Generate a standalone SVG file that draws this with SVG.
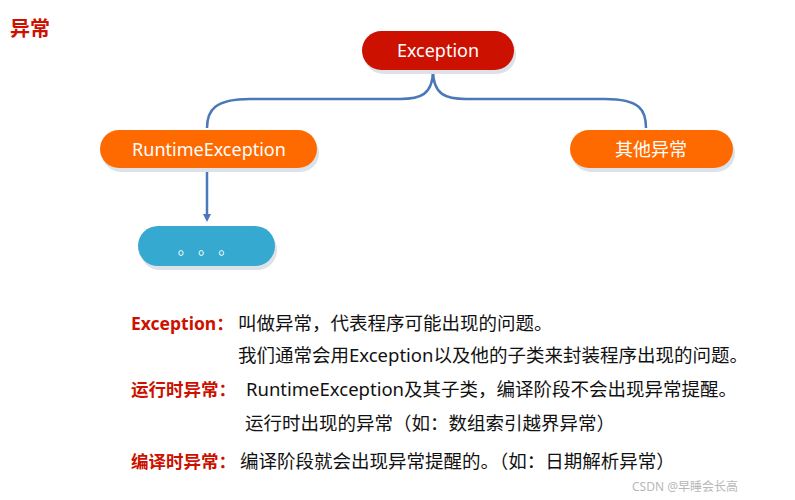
<svg xmlns="http://www.w3.org/2000/svg" width="795" height="500" viewBox="0 0 795 500">
<defs>
<style>
text{font-family:"Noto Sans","Noto Sans CJK SC",sans-serif}
.nt{fill:#fff;font-size:18px;text-anchor:middle}
.lb{fill:#cc1100;font-size:17.5px;font-weight:bold}
.bd{fill:#111;font-size:18.5px}
.sh{fill:#dde2e8}
.cn{fill:none;stroke:#4a78b8;stroke-width:2.5}
</style>
<marker id="ar" markerWidth="8" markerHeight="8" refX="4" refY="4" orient="auto" markerUnits="userSpaceOnUse"><path d="M0,0L8,4L0,8z" fill="#4a78b8"/></marker>
</defs>
<rect width="795" height="500" fill="#fff"/>
<text x="10" y="36" style="fill:#cc1100;font-size:20px;font-weight:bold">异常</text>
<g id="connectors">
<path class="cn" d="M433,70 C433,95 420,99 400,99 L250,99 C215,99 207,110 207,128"/>
<path class="cn" d="M433,70 C433,95 446,99 466,99 L605,99 C640,99 646,110 646,128"/>
<path class="cn" d="M207,168 L207,218" marker-end="url(#ar)"/>
</g>
<g id="exception">
<rect class="sh" x="364" y="35" width="152" height="39" rx="19.5"/>
<rect x="362" y="31" width="152" height="39" rx="19.5" fill="#cc1100"/>
<text class="nt" x="438" y="57">Exception</text>
</g>
<g id="runtime">
<rect class="sh" x="102" y="134" width="217" height="38" rx="19"/>
<rect x="100" y="130" width="217" height="38" rx="19" fill="#ff6a00"/>
<text class="nt" x="209" y="156">RuntimeException</text>
</g>
<g id="other">
<rect class="sh" x="572" y="134" width="163" height="38" rx="19"/>
<rect x="570" y="130" width="163" height="38" rx="19" fill="#ff6a00"/>
<text class="nt" x="651" y="156">其他异常</text>
</g>
<g id="dots">
<rect class="sh" x="140" y="230" width="137" height="40" rx="20"/>
<rect x="138" y="226" width="137" height="40" rx="20" fill="#36a9d0"/>
<text class="nt" x="206" y="254" style="font-size:16px;letter-spacing:0px">。 。 。</text>
</g>
<g id="notes">
<text class="lb" x="131" y="330">Exception：</text>
<text class="bd" x="238" y="330">叫做异常，代表程序可能出现的问题。</text>
<text class="bd" x="238" y="362">我们通常会用Exception以及他的子类来封装程序出现的问题。</text>
<text class="lb" x="131" y="396">运行时异常：</text>
<text class="bd" x="246" y="396">RuntimeException及其子类，编译阶段不会出现异常提醒。</text>
<text class="bd" x="245" y="430">运行时出现的异常（如：数组索引越界异常）</text>
<text class="lb" x="131" y="468">编译时异常：</text>
<text class="bd" x="240" y="468">编译阶段就会出现异常提醒的。（如：日期解析异常）</text>
<text x="632" y="491" style="fill:#b8b8b8;font-size:12px">CSDN @早睡会长高</text>
</g>
</svg>
